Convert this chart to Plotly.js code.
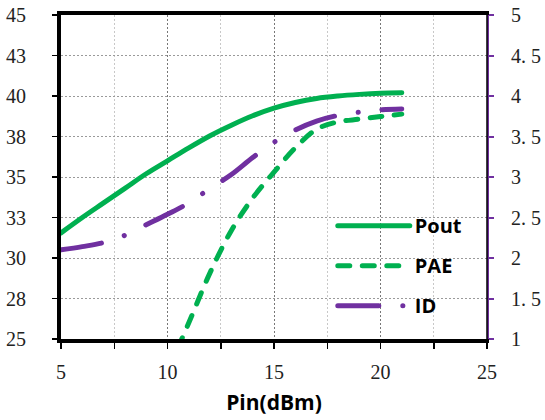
<!DOCTYPE html>
<html><head><meta charset="utf-8">
<script src="https://cdn.plot.ly/plotly-3.0.1.min.js"></script>
<style>
html,body{margin:0;padding:0;background:#fff;}
#chart{width:545px;height:420px;}
.main-svg path.js-line{stroke-linecap:round;}
</style></head><body><div id="chart"></div>
<script>
// Data
const pin = [5,6,7,8,9,10,11,12,13,14,15,16,17,18,19,20,21];
const pout = [31.55,32.5,33.4,34.3,35.2,36.0,36.8,37.55,38.2,38.78,39.25,39.6,39.85,40.0,40.1,40.17,40.2];
const paePin = [10,11,12,13,14,15,16,17,18,19,20,21];
const pae = [23.0,26.0,29.1,31.7,33.7,35.3,36.8,37.95,38.4,38.57,38.73,38.88];
const idA = [2.10,2.14,2.19,2.28,2.41,2.54,2.68,2.86,3.03,3.24,3.43,3.58,3.69,3.76,3.80,3.83,3.84];
const seriesNames = ['Pout','PAE','ID'];
const leftTickVals = [25,27.5,30,32.5,35,37.5,40,42.5,45];
const leftTickText = ['25','28','30','33','35','38','40','43','45'];
const rightTickVals = [1,1.5,2,2.5,3,3.5,4,4.5,5];
const rightTickText = ['1','1. 5','2','2. 5','3','3. 5','4','4. 5','5'];
const xTickVals = [5,10,15,20,25];
const xTitle = 'Pin(dBm)';

const green = '#00B050', purple = '#7030A0';
const traces = [
  {x: pin, y: pout, name: seriesNames[0], type:'scatter', mode:'lines', legendgroup:'a',
   line:{color:green, width:5, shape:'spline'}},
  {x: paePin, y: pae, name: seriesNames[1], type:'scatter', mode:'lines', legendgroup:'b',
   line:{color:green, width:5, shape:'spline', dash:'12px,12.5px'}},
  {x: pin, y: idA, name: seriesNames[2], type:'scatter', mode:'lines', legendgroup:'c', yaxis:'y2',
   line:{color:purple, width:5, shape:'spline', dash:'41px,24px,0.1px,24px'}}
];
const tickFont = {family:'Times New Roman, Liberation Serif, serif', size:20, color:'#222'};
const layout = {
  width:545, height:420,
  margin:{l:61, r:58, t:15, b:81},
  paper_bgcolor:'#fff', plot_bgcolor:'#fff',
  showlegend:true,
  legend:{x:0.638, y:0.41, xanchor:'left', yanchor:'top', bgcolor:'rgba(0,0,0,0)',
    itemwidth:72, traceorder:'grouped', tracegroupgap:11,
    font:{family:'Open Sans, sans-serif', size:20, weight:700, color:'#000'}},
  xaxis:{range:[5,25], tickvals:xTickVals, showline:true, linecolor:'#000', linewidth:4, mirror:true,
    ticks:'outside', ticklen:6, tickwidth:1.5, tickcolor:'#000', ticklabelstandoff:6,
    tickfont:tickFont, zeroline:false,
    showgrid:true, gridcolor:'#777', griddash:'2px,2px', gridwidth:1,
    minor:{dtick:2.5, ticks:'outside', ticklen:6, tickwidth:1.5, tickcolor:'#000', showgrid:true, gridcolor:'#c8c8c8', griddash:'2px,2px'},
    title:{text:xTitle, font:{family:'Open Sans, sans-serif', size:21, weight:700, color:'#000'}, standoff:14}},
  yaxis:{range:[25,45], tickvals:leftTickVals, ticktext:leftTickText, showline:true, linecolor:'#000', linewidth:4,
    ticks:'outside', ticklen:5, tickwidth:1.5, tickcolor:'#000', ticklabelstandoff:22,
    tickfont:tickFont, zeroline:false, showgrid:true, gridcolor:'#9a9a9a', griddash:'2px,2px', gridwidth:1},
  yaxis2:{range:[1,5], overlaying:'y', side:'right', tickvals:rightTickVals, ticktext:rightTickText,
    showline:true, linecolor:purple, linewidth:2, ticks:'outside', ticklen:5, tickwidth:2, tickcolor:purple,
    ticklabelstandoff:13, tickfont:tickFont, showgrid:false, zeroline:false},
  shapes:[{type:'line', xref:'paper', yref:'paper', x0:1, x1:1, y0:0, y1:1, line:{color:'#000', width:1.5}}]
};
Plotly.newPlot('chart', traces, layout, {displayModeBar:false, staticPlot:true});
</script></body></html>
